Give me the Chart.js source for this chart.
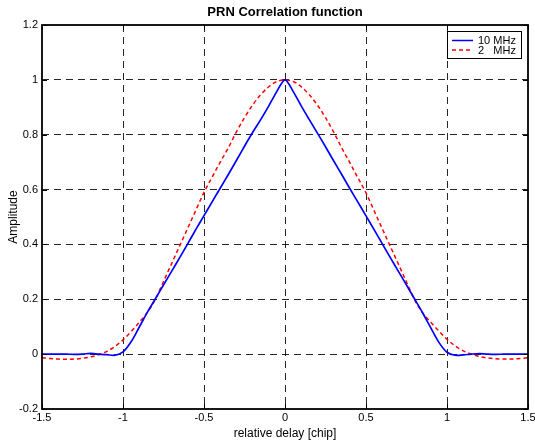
<!DOCTYPE html>
<html>
<head>
<meta charset="utf-8">
<script src="https://cdn.jsdelivr.net/npm/chart.js@4/dist/chart.umd.min.js"></script>
<style>
  html, body { margin: 0; padding: 0; background: #fff; }
  #wrap { width: 535px; height: 443px; position: relative; }
</style>
</head>
<body>
<div id="wrap"><canvas id="corr"></canvas></div>
<script>
/* ---- Dados ---- */
const delays = [
  -1.50, -1.45, -1.40, -1.35, -1.30, -1.25, -1.20, -1.15, -1.10, -1.05,
  -1.00, -0.95, -0.90, -0.85, -0.80, -0.75, -0.70, -0.65, -0.60, -0.55,
  -0.50, -0.45, -0.40, -0.35, -0.30, -0.25, -0.20, -0.15, -0.10, -0.05,
   0.00,  0.05,  0.10,  0.15,  0.20,  0.25,  0.30,  0.35,  0.40,  0.45,
   0.50,  0.55,  0.60,  0.65,  0.70,  0.75,  0.80,  0.85,  0.90,  0.95,
   1.00,  1.05,  1.10,  1.15,  1.20,  1.25,  1.30,  1.35,  1.40,  1.45,
   1.50
];

// 10 MHz (azul, contínua)
const amp10MHz = [
   0.000,  0.000,  0.000,  0.000, -0.001,  0.000,  0.003,  0.000, -0.002, -0.004,
   0.008,  0.045,  0.098,  0.152,  0.202,  0.252,  0.302,  0.352,  0.403,  0.455,
   0.505,  0.555,  0.605,  0.655,  0.706,  0.758,  0.808,  0.855,  0.905,  0.958,
   1.000,  0.958,  0.905,  0.855,  0.806,  0.756,  0.705,  0.655,  0.604,  0.554,
   0.504,  0.454,  0.403,  0.352,  0.302,  0.252,  0.201,  0.150,  0.096,  0.043,
   0.007, -0.004, -0.003,  0.000,  0.002,  0.000, -0.001,  0.000,  0.000,  0.000,
   0.000
];

// 2 MHz (vermelha, tracejada)
const amp2MHz = [
  -0.013, -0.016, -0.018, -0.019, -0.018, -0.015, -0.010, -0.002,  0.010,  0.028,
   0.052,  0.082,  0.116,  0.152,  0.200,  0.265,  0.330,  0.395,  0.460,  0.525,
   0.590,  0.645,  0.700,  0.752,  0.810,  0.862,  0.908,  0.946,  0.975,  0.994,
   1.000,  0.994,  0.975,  0.946,  0.908,  0.862,  0.810,  0.752,  0.698,  0.643,
   0.588,  0.523,  0.458,  0.393,  0.328,  0.263,  0.198,  0.150,  0.116,  0.084,
   0.054,  0.030,  0.012,  0.000, -0.009, -0.014, -0.017, -0.018, -0.018, -0.016,
  -0.013
];

const seriesNames = ['10 MHz', '2   MHz'];

const xTicks = [-1.5, -1, -0.5, 0, 0.5, 1, 1.5];
const xTickLabels = ['-1.5', '-1', '-0.5', '0', '0.5', '1', '1.5'];
const yTicks = [-0.2, 0, 0.2, 0.4, 0.6, 0.8, 1, 1.2];
const yTickLabels = ['-0.2', '0', '0.2', '0.4', '0.6', '0.8', '1', '1.2'];

const FONT = '"Liberation Sans", Arial, Helvetica, sans-serif';
const GRID_COLOR = 'rgba(0,0,0,0.85)';

/* ---- Plugin: título, caixa, ticks internos e legenda ---- */
const matlabFrame = {
  id: 'matlabFrame',
  afterDraw(chart) {
    const { ctx, chartArea: a, scales } = chart;
    ctx.save();

    // título
    ctx.fillStyle = '#000';
    ctx.font = 'bold 13px ' + FONT;
    ctx.textAlign = 'center';
    ctx.textBaseline = 'middle';
    ctx.fillText('PRN Correlation function', (a.left + a.right) / 2, 12);

    // ticks internos (4 lados)
    ctx.strokeStyle = '#000';
    ctx.lineWidth = 1;
    ctx.beginPath();
    xTicks.forEach(v => {
      const px = Math.round(scales.x.getPixelForValue(v)) + 0.5;
      ctx.moveTo(px, a.bottom); ctx.lineTo(px, a.bottom - 5);
      ctx.moveTo(px, a.top);    ctx.lineTo(px, a.top + 5);
    });
    yTicks.forEach(v => {
      const py = Math.round(scales.y.getPixelForValue(v)) + 0.5;
      ctx.moveTo(a.left, py);  ctx.lineTo(a.left + 5, py);
      ctx.moveTo(a.right, py); ctx.lineTo(a.right - 5, py);
    });
    ctx.stroke();

    // caixa
    ctx.lineWidth = 1.8;
    ctx.strokeRect(a.left, a.top, a.right - a.left, a.bottom - a.top);

    // legenda
    const lx = 447, ly = 31, lw = 74, lh = 27;
    ctx.fillStyle = '#fff';
    ctx.fillRect(lx, ly, lw, lh);
    ctx.lineWidth = 1;
    ctx.strokeStyle = '#000';
    ctx.strokeRect(lx + 0.5, ly + 0.5, lw, lh);
    ctx.font = '11px ' + FONT;
    ctx.textAlign = 'left';
    ctx.fillStyle = '#000';
    chart.data.datasets.forEach((ds, i) => {
      const yy = ly + 9.5 + i * 9.5;
      ctx.strokeStyle = ds.borderColor;
      ctx.lineWidth = 1.5;
      ctx.setLineDash(ds.borderDash || []);
      ctx.beginPath();
      ctx.moveTo(lx + 5, yy); ctx.lineTo(lx + 26, yy);
      ctx.stroke();
      ctx.setLineDash([]);
      ctx.fillText(ds.label, lx + 31, yy + 0.5);
    });

    ctx.restore();
  }
};

/* ---- Gráfico ---- */
const toPoints = ys => delays.map((x, i) => ({ x, y: ys[i] }));

new Chart(document.getElementById('corr'), {
  type: 'line',
  data: {
    datasets: [
      {
        label: seriesNames[0],
        data: toPoints(amp10MHz),
        borderColor: '#0000FF',
        borderWidth: 1.7,
        pointRadius: 0,
        tension: 0.3
      },
      {
        label: seriesNames[1],
        data: toPoints(amp2MHz),
        borderColor: '#FF0000',
        borderWidth: 1.5,
        borderDash: [4, 3],
        pointRadius: 0,
        cubicInterpolationMode: 'monotone'
      }
    ]
  },
  options: {
    responsive: true,
    maintainAspectRatio: false,
    animation: false,
    layout: { padding: { left: 0, top: 25, right: 7, bottom: 0 } },
    plugins: {
      legend: { display: false },
      title: { display: false },
      tooltip: { enabled: false }
    },
    scales: {
      x: {
        type: 'linear',
        min: -1.5,
        max: 1.5,
        afterBuildTicks: axis => { axis.ticks = xTicks.map(v => ({ value: v })); },
        afterFit: scale => {
          scale.height = 34;
          scale.paddingLeft = 0;
          scale.paddingRight = 0;
        },
        ticks: {
          color: '#000',
          font: { family: FONT, size: 11 },
          padding: 2,
          maxRotation: 0,
          callback: (v) => xTickLabels[xTicks.indexOf(v)] ?? ''
        },
        grid: {
          color: ctx => (ctx.index === 0 || ctx.index === xTicks.length - 1) ? 'transparent' : GRID_COLOR,
          lineWidth: 1,
          drawTicks: false
        },
        border: { display: false, dash: [7, 5] },
        title: {
          display: true,
          text: 'relative delay [chip]',
          color: '#000',
          font: { family: FONT, size: 12 },
          padding: { top: 0, bottom: 2 }
        }
      },
      y: {
        min: -0.2,
        max: 1.2,
        afterBuildTicks: axis => { axis.ticks = yTicks.map(v => ({ value: v })); },
        afterFit: scale => {
          scale.width = 42;
          scale.paddingTop = 0;
          scale.paddingBottom = 0;
        },
        ticks: {
          color: '#000',
          font: { family: FONT, size: 11 },
          padding: 4,
          callback: (v) => {
            const i = yTicks.findIndex(t => Math.abs(t - v) < 1e-9);
            return i >= 0 ? yTickLabels[i] : '';
          }
        },
        grid: {
          color: ctx => (ctx.index === 0 || ctx.index === yTicks.length - 1) ? 'transparent' : GRID_COLOR,
          lineWidth: 1,
          drawTicks: false
        },
        border: { display: false, dash: [7, 5] },
        title: {
          display: true,
          text: 'Amplitude',
          color: '#000',
          font: { family: FONT, size: 12 },
          padding: { top: 6, bottom: 0 }
        }
      }
    }
  },
  plugins: [matlabFrame]
});
</script>
</body>
</html>
